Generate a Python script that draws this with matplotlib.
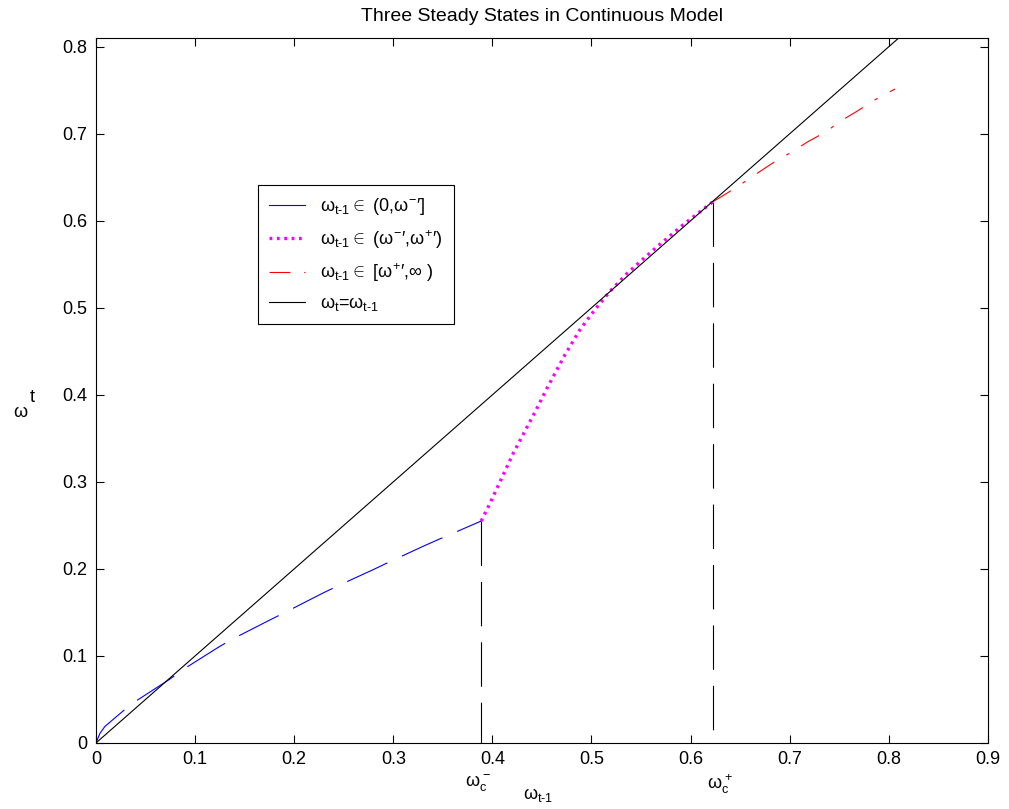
import matplotlib
matplotlib.use("Agg")
import matplotlib.pyplot as plt

plt.rcParams['font.family'] = ['Liberation Sans', 'DejaVu Sans']
plt.rcParams['mathtext.fontset'] = 'custom'
plt.rcParams['mathtext.rm'] = 'Liberation Sans'
plt.rcParams['mathtext.it'] = 'Liberation Sans'
plt.rcParams['mathtext.sf'] = 'Liberation Sans'
plt.rcParams['lines.scale_dashes'] = False

# values
low_x = [0, 0.004, 0.009, 0.0276, 0.0394, 0.0747, 0.088, 0.1235, 0.137, 0.1749,
         0.189, 0.228, 0.243, 0.280, 0.295, 0.332, 0.347, 0.3887]
low_y = [0, 0.011, 0.019, 0.037, 0.0475, 0.0735, 0.0845, 0.110, 0.119, 0.141,
         0.149, 0.1717, 0.180, 0.1993, 0.2075, 0.227, 0.2345, 0.255]

mid_x = [0.3887, 0.3976, 0.4211, 0.4447, 0.4548, 0.4732, 0.4884, 0.5035, 0.5187,
         0.5355, 0.552, 0.567, 0.592, 0.6227]
mid_y = [0.255, 0.2755, 0.333, 0.384, 0.407, 0.446, 0.475, 0.498, 0.519,
         0.539, 0.556, 0.571, 0.595, 0.622]

high_x = [0.6227, 0.638, 0.6515, 0.670, 0.6868, 0.7003, 0.7188, 0.7373, 0.749,
          0.7675, 0.786, 0.8062]
high_y = [0.622, 0.6326, 0.6425, 0.6567, 0.6693, 0.6778, 0.6912, 0.7026, 0.713,
          0.7256, 0.739, 0.7514]

diag = [0, 0.82]
w_minus = 0.3887
w_plus = 0.6227

fig = plt.figure(figsize=(10.09, 8.09), dpi=100)
ax = fig.add_axes([0.0951, 0.0816, 0.884, 0.8714])

l1, = ax.plot(low_x, low_y, color='#0000ff', lw=0.8, dashes=(32, 11.5))
l2, = ax.plot(mid_x, mid_y, color='#ff00ff', lw=2.4, dashes=(2, 3.3))
l3, = ax.plot(high_x, high_y, color='#ff0000', lw=0.8, dashes=(15, 10, 2.5, 10))
l4, = ax.plot(diag, diag, color='black', lw=0.8)

# vertical markers at the two thresholds
ax.plot([w_minus, w_minus], [low_y[-1], 0], color='black', lw=0.8, dashes=(32, 11.5))
ax.plot([w_plus, w_plus], [high_y[0], 0], color='black', lw=0.8, dashes=(32, 11.5))

ax.set_xlim(0, 0.9)
ax.set_ylim(0, 0.81)
ax.set_xticks([i / 10 for i in range(10)])
ax.set_yticks([i / 10 for i in range(9)])
ax.set_xticklabels(['0', '0.1', '0.2', '0.3', '0.4', '0.5', '0.6', '0.7', '0.8', '0.9'])
ax.set_yticklabels(['0', '0.1', '0.2', '0.3', '0.4', '0.5', '0.6', '0.7', '0.8'])
ax.tick_params(direction='in', length=5.5, width=0.8, top=True, right=True,
               labelsize=13, pad=6)
for s in ax.spines.values():
    s.set_linewidth(0.8)

ax.set_title('Three Steady States in Continuous Model', fontsize=14, pad=12)

labels = [r'$\omega_{\text{t-1}}$$\in$ (0,$\omega^{-}$′]',
          r'$\omega_{\text{t-1}}$$\in$ ($\omega^{-}$′,$\omega^{+}$′)',
          r'$\omega_{\text{t-1}}$$\in$ [$\omega^{+}$′,$\infty$ )',
          r'$\omega_{\text{t}}$=$\omega_{\text{t-1}}$']
leg = ax.legend([l1, l2, l3, l4], labels, loc='upper left',
                bbox_to_anchor=(0.1816, 0.7915), borderaxespad=0, fontsize=13,
                handlelength=2.0, fancybox=False, framealpha=1, edgecolor='black',
                borderpad=0.62, labelspacing=0.6)
leg.get_frame().set_linewidth(0.8)
for h in leg.get_lines():
    h.set_linestyle('-')
leg.get_lines()[1].set_dashes((2, 3.3))
leg.get_lines()[2].set_dashes((15, 10, 1, 11))

trans = ax.get_xaxis_transform()
ax.text(0.3723, -0.058, r'$\omega_c^-$', transform=trans, ha='left', va='center', fontsize=13)
ax.text(0.6165, -0.058, r'$\omega_c^+$', transform=trans, ha='left', va='center', fontsize=13)
ax.text(0.4309, -0.074, r'$\omega_{\text{t-1}}$', transform=trans, ha='left', va='center', fontsize=13)
fig.text(0.0198, 0.4895, 'ω', ha='center', va='center', fontsize=13)
fig.text(0.0317, 0.509, 't', ha='center', va='center', fontsize=13)

fig.savefig('out.png', dpi=100)
